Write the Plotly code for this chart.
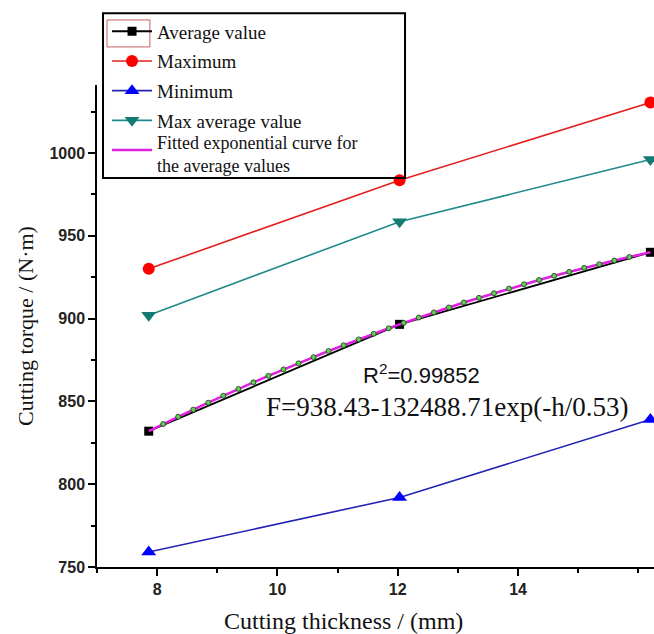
import plotly.graph_objects as go

# ---- data ----
thickness = [7.86, 12.03, 16.2]
average_vals = [832, 896.5, 940]
maximum_vals = [930, 983.5, 1030.5]
minimum_vals = [759, 792, 839]
max_average_vals = [902, 958.5, 996]

fit_x = [7.86, 8.1, 8.35, 8.6, 8.85, 9.1, 9.35, 9.6, 9.85, 10.1, 10.35, 10.6,
         10.85, 11.1, 11.35, 11.6, 11.85, 12.1, 12.35, 12.6, 12.85, 13.1, 13.35,
         13.6, 13.85, 14.1, 14.35, 14.6, 14.85, 15.1, 15.35, 15.6, 15.85, 16.2]
fit_y = [832.0, 836.3, 840.7, 845.0, 849.2, 853.4, 857.5, 861.5, 865.4, 869.3,
         873.0, 876.7, 880.4, 883.9, 887.4, 890.8, 894.1, 897.4, 900.6, 903.7,
         906.7, 909.7, 912.5, 915.3, 918.1, 920.7, 923.3, 925.8, 928.2, 930.6,
         932.8, 935.0, 937.2, 940.0]

x_ticks = [8, 10, 12, 14]
y_ticks = [750, 800, 850, 900, 950, 1000]

SERIF = "Liberation Serif, Times New Roman, serif"
SANS = "Liberation Sans, Arial, sans-serif"

fig = go.Figure()

fig.add_trace(go.Scatter(
    x=thickness, y=maximum_vals, mode="lines+markers", name="Maximum",
    line=dict(color="#e41e1e", width=1.6),
    marker=dict(symbol="circle", size=12, color="#ff0000"),
    legendgroup="b", legendrank=2, cliponaxis=False))
fig.add_trace(go.Scatter(
    x=thickness, y=minimum_vals, mode="lines+markers", name="Minimum",
    line=dict(color="#2424b4", width=1.6),
    marker=dict(symbol="triangle-up", size=13, color="#0000ff"),
    legendgroup="c", legendrank=3, cliponaxis=False))
fig.add_trace(go.Scatter(
    x=thickness, y=max_average_vals, mode="lines+markers", name="Max average value",
    line=dict(color="#1f8a8a", width=1.6),
    marker=dict(symbol="triangle-down", size=13, color="#137a74"),
    legendgroup="d", legendrank=4, cliponaxis=False))
fig.add_trace(go.Scatter(
    x=thickness, y=average_vals, mode="lines+markers", name="Average value",
    line=dict(color="#000000", width=1.8),
    marker=dict(symbol="square", size=9, color="#000000"),
    legendgroup="a", legendrank=1, cliponaxis=False))
fig.add_trace(go.Scatter(
    x=fit_x, y=fit_y, mode="lines",
    name=" ",
    line=dict(color="#e020e0", width=2.6),
    legendgroup="e", legendrank=5, cliponaxis=False))
fig.add_trace(go.Scatter(
    x=fit_x[1:-1], y=fit_y[1:-1], mode="markers", showlegend=False,
    marker=dict(symbol="circle", size=5, color="#5fcf4f",
                line=dict(color="#1a3a1a", width=0.8)),
    cliponaxis=False))

fig.add_annotation(x=12.4, y=866.5, xref="x", yref="y",
                   text="R<sup>2</sup>=0.99852", showarrow=False,
                   font=dict(family=SANS, size=22, color="#111"))
fig.add_annotation(x=12.82, y=846.5, xref="x", yref="y",
                   text="F=938.43-132488.71exp(-h/0.53)", showarrow=False,
                   font=dict(family=SERIF, size=27, color="#111"))

# x-axis title (placed as in the reference)
fig.add_annotation(x=0.4434, y=-0.112, xref="paper", yref="paper",
                   xanchor="center", yanchor="middle",
                   text="Cutting thickness / (mm)", showarrow=False,
                   font=dict(family=SERIF, size=24, color="#111"))

# text of the last (two-line) legend entry
fig.add_annotation(x=0.1041, y=0.8548, xref="paper", yref="paper",
                   xanchor="left", yanchor="middle", align="left",
                   text="Fitted exponential curve for<br>the average values",
                   showarrow=False,
                   font=dict(family=SERIF, size=18, color="#111"))

# legend frame
fig.add_shape(type="rect", xref="paper", yref="paper",
              x0=0.0108, x1=0.553, y0=0.8071, y1=1.149,
              line=dict(color="#000", width=2), layer="above")
# highlight box around first legend symbol
fig.add_shape(type="rect", xref="paper", yref="paper",
              x0=0.018, x1=0.095, y0=1.079, y1=1.135,
              line=dict(color="#c86060", width=1), layer="above")

fig.update_layout(
    width=654, height=634,
    margin=dict(l=97, r=0, t=85, b=67),
    paper_bgcolor="white", plot_bgcolor="white",
    showlegend=True,
    legend=dict(x=0.018, y=1.1506, xanchor="left", yanchor="top",
                bgcolor="rgba(255,255,255,0)", borderwidth=0,
                font=dict(family=SERIF, size=19, color="#111"),
                traceorder="grouped", tracegroupgap=2, itemwidth=40),
    xaxis=dict(range=[7, 16.26], tickvals=x_ticks, ticks="outside", ticklen=7,
               tickwidth=1.5, tickcolor="#000", showline=True, linecolor="#000",
               linewidth=1.5, showgrid=False, zeroline=False,
               minor=dict(dtick=1, tick0=7, ticks="outside", ticklen=4,
                          tickwidth=1.5, tickcolor="#000"),
               tickfont=dict(family=SANS, size=16, color="#222", weight="bold")),
    yaxis=dict(range=[750, 1041], tickvals=y_ticks, ticks="outside", ticklen=7,
               tickwidth=1.5, tickcolor="#000", showline=True, linecolor="#000",
               linewidth=1.5, showgrid=False, zeroline=False,
               minor=dict(dtick=25, tick0=750, ticks="outside", ticklen=4,
                          tickwidth=1.5, tickcolor="#000"),
               tickfont=dict(family=SANS, size=16, color="#222", weight="bold"),
               title=dict(text="Cutting torque / (N·m)", standoff=10,
                          font=dict(family=SERIF, size=22, color="#111"))),
)

fig.write_html("out.html")
